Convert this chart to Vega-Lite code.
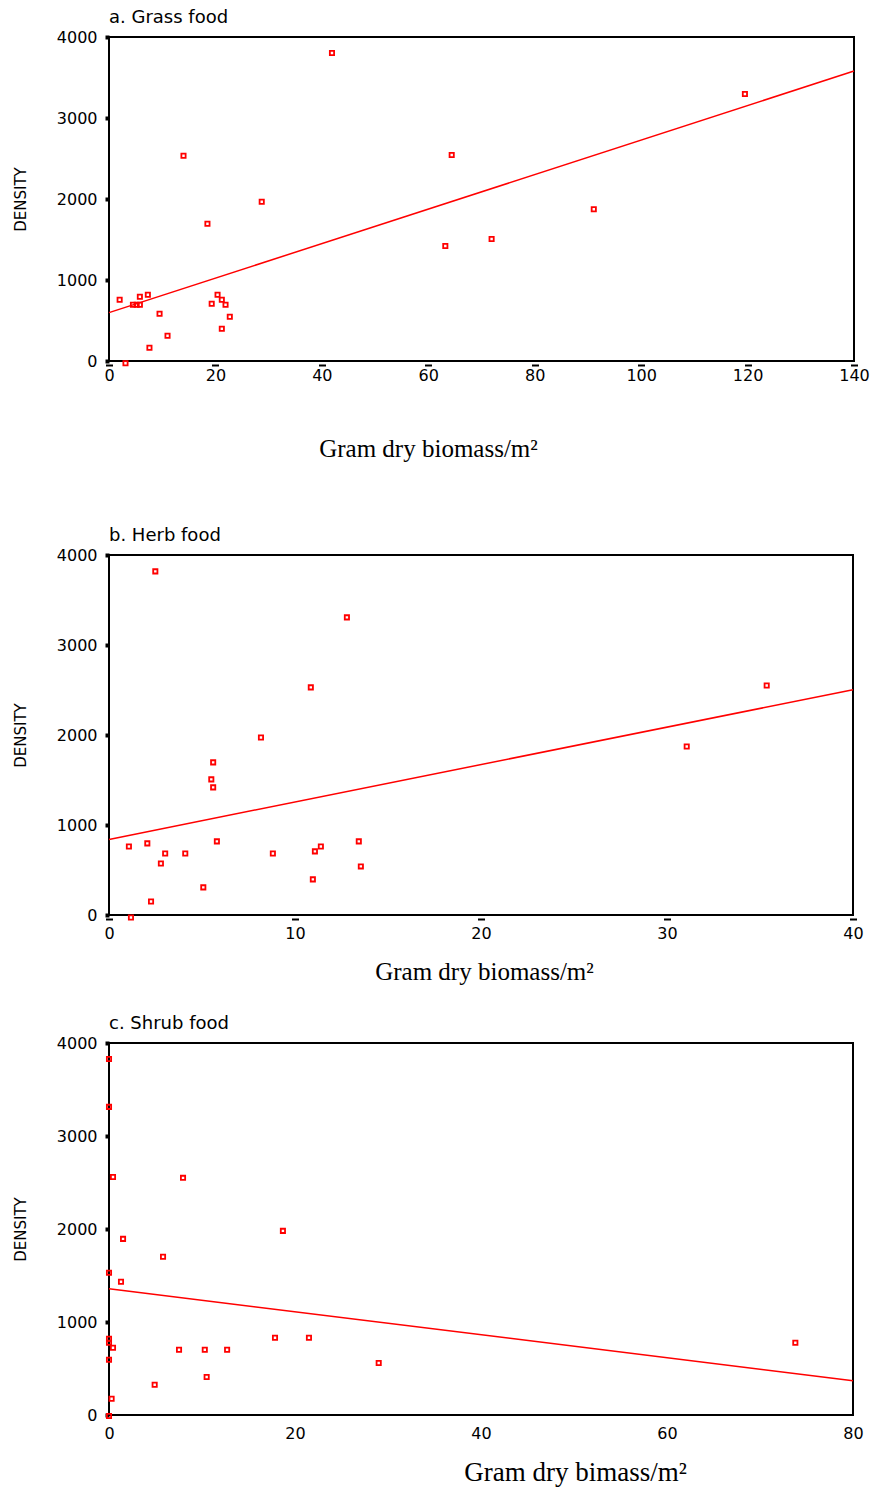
{
  "$schema": "https://vega.github.io/schema/vega-lite/v6.json",
  "background": "white",
  "padding": {"left": 12, "top": 8, "right": 10, "bottom": 2},
  "config": {
    "view": {"stroke": "black", "strokeWidth": 2},
    "font": "DejaVu Sans",
    "title": {"anchor": "start", "frame": "group", "font": "DejaVu Sans", "fontSize": 18, "fontWeight": "normal", "color": "black", "offset": 2},
    "axis": {"domain": false, "grid": false, "tickColor": "black", "labelColor": "black", "labelFont": "DejaVu Sans", "labelFontSize": 16, "titleColor": "black", "titleFontWeight": "normal", "labelFlush": false, "format": "d"}
  },
  "datasets": {
    "grass": [
      {"biomass": 2.0, "density": 757}, {"biomass": 4.5, "density": 695}, {"biomass": 5.2, "density": 695},
      {"biomass": 5.8, "density": 695}, {"biomass": 5.8, "density": 794}, {"biomass": 7.3, "density": 819},
      {"biomass": 9.5, "density": 584}, {"biomass": 7.6, "density": 164}, {"biomass": 11.0, "density": 312},
      {"biomass": 3.1, "density": -28}, {"biomass": 14.0, "density": 2535}, {"biomass": 18.5, "density": 1695},
      {"biomass": 28.7, "density": 1967}, {"biomass": 19.3, "density": 707}, {"biomass": 20.4, "density": 819},
      {"biomass": 21.2, "density": 757}, {"biomass": 21.9, "density": 695}, {"biomass": 22.7, "density": 547},
      {"biomass": 21.2, "density": 399}, {"biomass": 41.9, "density": 3802}, {"biomass": 64.4, "density": 2543},
      {"biomass": 63.2, "density": 1420}, {"biomass": 71.9, "density": 1506}, {"biomass": 91.1, "density": 1873},
      {"biomass": 119.5, "density": 3296}
    ],
    "grassFit": [{"biomass": 0, "density": 597}, {"biomass": 140, "density": 3580}],
    "herb": [
      {"biomass": 2.49, "density": 3818}, {"biomass": 12.79, "density": 3307}, {"biomass": 10.85, "density": 2529},
      {"biomass": 8.17, "density": 1973}, {"biomass": 5.6, "density": 1696}, {"biomass": 5.5, "density": 1507},
      {"biomass": 5.6, "density": 1418}, {"biomass": 1.07, "density": 762}, {"biomass": 2.06, "density": 796},
      {"biomass": 3.02, "density": 684}, {"biomass": 2.79, "density": 573}, {"biomass": 4.1, "density": 684},
      {"biomass": 5.8, "density": 818}, {"biomass": 2.26, "density": 151}, {"biomass": 5.07, "density": 307},
      {"biomass": 1.18, "density": -27}, {"biomass": 8.81, "density": 684}, {"biomass": 11.07, "density": 707},
      {"biomass": 11.39, "density": 762}, {"biomass": 10.96, "density": 396}, {"biomass": 13.43, "density": 818},
      {"biomass": 13.54, "density": 540}, {"biomass": 31.06, "density": 1873}, {"biomass": 35.36, "density": 2551}
    ],
    "herbFit": [{"biomass": 0, "density": 840}, {"biomass": 40, "density": 2503}],
    "shrub": [
      {"biomass": 0, "density": 3828}, {"biomass": 0, "density": 3313}, {"biomass": 0.43, "density": 2560},
      {"biomass": 7.96, "density": 2550}, {"biomass": 18.7, "density": 1980}, {"biomass": 1.51, "density": 1894},
      {"biomass": 5.81, "density": 1701}, {"biomass": 0, "density": 1529}, {"biomass": 1.29, "density": 1432},
      {"biomass": 0, "density": 820}, {"biomass": 0, "density": 777}, {"biomass": 0.43, "density": 723},
      {"biomass": 0, "density": 594}, {"biomass": 7.53, "density": 702}, {"biomass": 10.3, "density": 702},
      {"biomass": 12.7, "density": 702}, {"biomass": 17.85, "density": 831}, {"biomass": 21.5, "density": 831},
      {"biomass": 29.0, "density": 559}, {"biomass": 10.5, "density": 408}, {"biomass": 4.91, "density": 326},
      {"biomass": 0.28, "density": 175}, {"biomass": 0, "density": -10}, {"biomass": 73.8, "density": 777}
    ],
    "shrubFit": [{"biomass": 0, "density": 1357}, {"biomass": 80, "density": 369}]
  },
  "spacing": 64,
  "vconcat": [
    {
      "title": "a. Grass food",
      "width": 745,
      "height": 324,
      "encoding": {
        "x": {"field": "biomass", "type": "quantitative", "scale": {"domain": [0, 140], "nice": false},
          "axis": {"title": "Gram dry biomass/m²", "values": [0, 20, 40, 60, 80, 100, 120, 140], "offset": 3, "tickSize": 2, "tickWidth": 7, "labelPadding": 1,
            "titleFont": "Liberation Serif", "titleFontSize": 25, "titlePadding": 53, "titleX": 319, "titleAlign": "center"}},
        "y": {"field": "density", "type": "quantitative", "scale": {"domain": [0, 4000], "nice": false},
          "axis": {"title": "DENSITY", "values": [0, 1000, 2000, 3000, 4000], "tickSize": 4, "tickWidth": 4, "labelPadding": 8,
            "titleFont": "DejaVu Sans", "titleFontSize": 15, "titleX": -89, "titleY": 162, "titleAngle": -90, "titleBaseline": "middle", "titleAlign": "center"}}
      },
      "layer": [
        {
          "data": {"name": "grass"},
          "mark": {"type": "point", "shape": "square", "filled": false, "color": "#ff0000", "size": 18, "strokeWidth": 1.8, "opacity": 1, "clip": false}
        },
        {
          "data": {"name": "grassFit"},
          "mark": {"type": "line", "color": "#ff0000", "strokeWidth": 1.5}
        }
      ]
    },
    {
      "spacing": 29,
      "vconcat": [
        {
          "title": "b. Herb food",
          "width": 744,
          "height": 360,
          "encoding": {
            "x": {"field": "biomass", "type": "quantitative", "scale": {"domain": [0, 40], "nice": false},
              "axis": {"title": "Gram dry biomass/m²", "values": [0, 10, 20, 30, 40], "offset": 3, "tickSize": 2, "tickWidth": 7, "labelPadding": 5,
                "titleFont": "Liberation Serif", "titleFontSize": 25, "titlePadding": 18, "titleX": 375, "titleAlign": "center"}},
            "y": {"field": "density", "type": "quantitative", "scale": {"domain": [0, 4000], "nice": false},
              "axis": {"title": "DENSITY", "values": [0, 1000, 2000, 3000, 4000], "tickSize": 4, "tickWidth": 4, "labelPadding": 8,
                "titleFont": "DejaVu Sans", "titleFontSize": 15, "titleX": -89, "titleY": 180, "titleAngle": -90, "titleBaseline": "middle", "titleAlign": "center"}}
          },
          "layer": [
            {
              "data": {"name": "herb"},
              "mark": {"type": "point", "shape": "square", "filled": false, "color": "#ff0000", "size": 18, "strokeWidth": 1.8, "opacity": 1, "clip": false}
            },
            {
              "data": {"name": "herbFit"},
              "mark": {"type": "line", "color": "#ff0000", "strokeWidth": 1.5}
            }
          ]
        },
        {
          "title": "c. Shrub food",
          "width": 744,
          "height": 372,
          "encoding": {
            "x": {"field": "biomass", "type": "quantitative", "scale": {"domain": [0, 80], "nice": false},
              "axis": {"title": "Gram dry bimass/m²", "values": [0, 20, 40, 60, 80], "ticks": false, "labelPadding": 10,
                "titleFont": "Liberation Serif", "titleFontSize": 27, "titlePadding": 18, "titleX": 466, "titleAlign": "center"}},
            "y": {"field": "density", "type": "quantitative", "scale": {"domain": [0, 4000], "nice": false},
              "axis": {"title": "DENSITY", "values": [0, 1000, 2000, 3000, 4000], "tickSize": 4, "tickWidth": 4, "labelPadding": 8,
                "titleFont": "DejaVu Sans", "titleFontSize": 15, "titleX": -89, "titleY": 186, "titleAngle": -90, "titleBaseline": "middle", "titleAlign": "center"}}
          },
          "layer": [
            {
              "data": {"name": "shrub"},
              "mark": {"type": "point", "shape": "square", "filled": false, "color": "#ff0000", "size": 18, "strokeWidth": 1.8, "opacity": 1, "clip": false}
            },
            {
              "data": {"name": "shrubFit"},
              "mark": {"type": "line", "color": "#ff0000", "strokeWidth": 1.5}
            }
          ]
        }
      ]
    }
  ]
}
